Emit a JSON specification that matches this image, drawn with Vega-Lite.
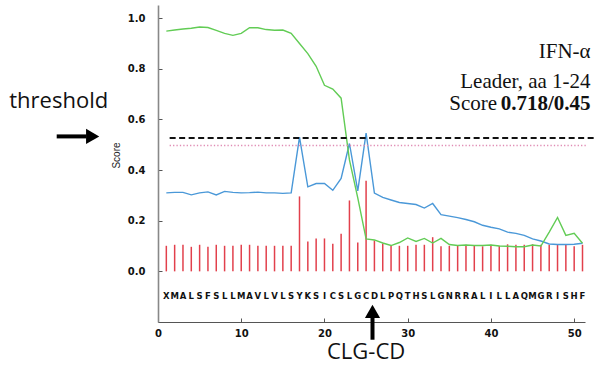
{
  "$schema": "https://vega.github.io/schema/vega-lite/v6.json",
  "autosize": "none",
  "width": 427,
  "height": 317,
  "padding": {"left": 158, "top": 5, "right": 12, "bottom": 48},
  "background": "white",
  "config": {"view": {"stroke": null}},
  "datasets": {
    "scores": [
      {"pos": 1, "aa": "X", "C": 0.101, "S": 0.949, "Y": 0.310},
      {"pos": 2, "aa": "M", "C": 0.105, "S": 0.953, "Y": 0.312},
      {"pos": 3, "aa": "A", "C": 0.105, "S": 0.957, "Y": 0.312},
      {"pos": 4, "aa": "L", "C": 0.097, "S": 0.960, "Y": 0.302},
      {"pos": 5, "aa": "S", "C": 0.105, "S": 0.965, "Y": 0.310},
      {"pos": 6, "aa": "F", "C": 0.097, "S": 0.963, "Y": 0.314},
      {"pos": 7, "aa": "S", "C": 0.105, "S": 0.952, "Y": 0.302},
      {"pos": 8, "aa": "L", "C": 0.101, "S": 0.940, "Y": 0.316},
      {"pos": 9, "aa": "L", "C": 0.101, "S": 0.932, "Y": 0.312},
      {"pos": 10, "aa": "M", "C": 0.105, "S": 0.940, "Y": 0.310},
      {"pos": 11, "aa": "A", "C": 0.105, "S": 0.962, "Y": 0.311},
      {"pos": 12, "aa": "V", "C": 0.101, "S": 0.962, "Y": 0.313},
      {"pos": 13, "aa": "L", "C": 0.101, "S": 0.955, "Y": 0.310},
      {"pos": 14, "aa": "V", "C": 0.101, "S": 0.952, "Y": 0.310},
      {"pos": 15, "aa": "L", "C": 0.101, "S": 0.953, "Y": 0.308},
      {"pos": 16, "aa": "S", "C": 0.101, "S": 0.940, "Y": 0.310},
      {"pos": 17, "aa": "Y", "C": 0.296, "S": 0.900, "Y": 0.530},
      {"pos": 18, "aa": "K", "C": 0.118, "S": 0.860, "Y": 0.334},
      {"pos": 19, "aa": "S", "C": 0.130, "S": 0.810, "Y": 0.347},
      {"pos": 20, "aa": "I", "C": 0.130, "S": 0.735, "Y": 0.347},
      {"pos": 21, "aa": "C", "C": 0.109, "S": 0.720, "Y": 0.320},
      {"pos": 22, "aa": "S", "C": 0.149, "S": 0.684, "Y": 0.367},
      {"pos": 23, "aa": "L", "C": 0.280, "S": 0.440, "Y": 0.505},
      {"pos": 24, "aa": "G", "C": 0.114, "S": 0.290, "Y": 0.318},
      {"pos": 25, "aa": "C", "C": 0.358, "S": 0.128, "Y": 0.546},
      {"pos": 26, "aa": "D", "C": 0.122, "S": 0.124, "Y": 0.309},
      {"pos": 27, "aa": "L", "C": 0.110, "S": 0.112, "Y": 0.292},
      {"pos": 28, "aa": "P", "C": 0.101, "S": 0.102, "Y": 0.282},
      {"pos": 29, "aa": "Q", "C": 0.101, "S": 0.114, "Y": 0.272},
      {"pos": 30, "aa": "T", "C": 0.101, "S": 0.132, "Y": 0.268},
      {"pos": 31, "aa": "H", "C": 0.105, "S": 0.118, "Y": 0.264},
      {"pos": 32, "aa": "S", "C": 0.105, "S": 0.130, "Y": 0.250},
      {"pos": 33, "aa": "L", "C": 0.135, "S": 0.112, "Y": 0.268},
      {"pos": 34, "aa": "G", "C": 0.099, "S": 0.130, "Y": 0.224},
      {"pos": 35, "aa": "N", "C": 0.101, "S": 0.106, "Y": 0.218},
      {"pos": 36, "aa": "R", "C": 0.101, "S": 0.102, "Y": 0.212},
      {"pos": 37, "aa": "R", "C": 0.105, "S": 0.104, "Y": 0.205},
      {"pos": 38, "aa": "A", "C": 0.101, "S": 0.102, "Y": 0.196},
      {"pos": 39, "aa": "L", "C": 0.099, "S": 0.102, "Y": 0.182},
      {"pos": 40, "aa": "I", "C": 0.105, "S": 0.104, "Y": 0.174},
      {"pos": 41, "aa": "L", "C": 0.101, "S": 0.100, "Y": 0.168},
      {"pos": 42, "aa": "L", "C": 0.107, "S": 0.099, "Y": 0.155},
      {"pos": 43, "aa": "A", "C": 0.105, "S": 0.097, "Y": 0.150},
      {"pos": 44, "aa": "Q", "C": 0.105, "S": 0.097, "Y": 0.142},
      {"pos": 45, "aa": "M", "C": 0.107, "S": 0.104, "Y": 0.128},
      {"pos": 46, "aa": "G", "C": 0.105, "S": 0.100, "Y": 0.120},
      {"pos": 47, "aa": "R", "C": 0.105, "S": 0.155, "Y": 0.108},
      {"pos": 48, "aa": "I", "C": 0.105, "S": 0.213, "Y": 0.106},
      {"pos": 49, "aa": "S", "C": 0.105, "S": 0.142, "Y": 0.106},
      {"pos": 50, "aa": "H", "C": 0.099, "S": 0.150, "Y": 0.107},
      {"pos": 51, "aa": "F", "C": 0.105, "S": 0.111, "Y": 0.111}
    ],
    "cutoffs": [
      {"kind": "threshold", "x1": 1.4, "x2": 52.5, "y": 0.527},
      {"kind": "dotted", "x1": 1.4, "x2": 51.6, "y": 0.497}
    ],
    "notes": [
      {"label": "IFN-α", "x": 51.97, "y": 0.842},
      {"label": "Leader, aa 1-24", "x": 51.97, "y": 0.724},
      {"label": "Score", "x": 40.75, "y": 0.638}
    ],
    "boldnotes": [
      {"label": "0.718/0.45", "x": 51.97, "y": 0.638}
    ],
    "callouts": [
      {"label": "threshold", "x": -11.93, "y": 0.645},
      {"label": "CLG-CD", "x": 25.0, "y": -0.348}
    ],
    "shafts": [
      {"x1": -12.17, "x2": -8.6, "y1": 0.533, "y2": 0.533},
      {"x1": 25.77, "x2": 25.77, "y1": -0.17, "y2": -0.27}
    ],
    "heads": [
      {"x": -7.85, "y": 0.533, "dir": "triangle-right"},
      {"x": 25.77, "y": -0.158, "dir": "triangle-up"}
    ]
  },
  "layer": [
    {
      "data": {"name": "scores"},
      "mark": {"type": "rule", "color": "#e2404c", "strokeWidth": 1.5},
      "encoding": {
        "x": {
          "field": "pos", "type": "quantitative",
          "scale": {"domain": [0, 51.3], "nice": false, "zero": false},
          "axis": {
            "values": [0, 10, 20, 30, 40, 50], "title": null, "grid": false,
            "labelFont": "DejaVu Sans", "labelFontWeight": "bold", "labelFontSize": 10, "labelColor": "#111",
            "tickSize": -4, "tickColor": "#555", "domainColor": "#555", "domainWidth": 1.2,
            "labelPadding": 10, "labelFlush": false
          }
        },
        "y": {
          "field": "C", "type": "quantitative",
          "scale": {"domain": [-0.2, 1.052], "nice": false, "zero": false},
          "axis": {
            "values": [0, 0.2, 0.4, 0.6, 0.8, 1.0], "format": ".1f", "title": "Score", "grid": false,
            "labelFont": "DejaVu Sans", "labelFontWeight": "bold", "labelFontSize": 10, "labelColor": "#111",
            "tickSize": -4, "tickColor": "#555", "domainColor": "#888", "domainWidth": 1.6,
            "labelPadding": 17, "labelFlush": false,
            "titleFont": "Liberation Sans", "titleFontSize": 10, "titleFontWeight": "normal", "titleColor": "#222",
            "titleX": -42, "titleY": 150, "titleBaseline": "middle", "titleAngle": -90
          }
        },
        "y2": {"datum": 0}
      }
    },
    {
      "data": {"name": "scores"},
      "mark": {"type": "line", "color": "#4a98d8", "strokeWidth": 1.4},
      "encoding": {
        "x": {"field": "pos", "type": "quantitative"},
        "y": {"field": "Y", "type": "quantitative"}
      }
    },
    {
      "data": {"name": "scores"},
      "mark": {"type": "line", "color": "#62cc55", "strokeWidth": 1.4},
      "encoding": {
        "x": {"field": "pos", "type": "quantitative"},
        "y": {"field": "S", "type": "quantitative"}
      }
    },
    {
      "data": {"name": "scores"},
      "mark": {"type": "text", "font": "DejaVu Sans", "fontWeight": "bold", "fontSize": 8.5, "color": "#111", "baseline": "middle", "align": "center"},
      "encoding": {
        "x": {"field": "pos", "type": "quantitative"},
        "y": {"datum": -0.098},
        "text": {"field": "aa"}
      }
    },
    {
      "data": {"name": "cutoffs"},
      "transform": [{"filter": "datum.kind === 'threshold'"}],
      "mark": {"type": "rule", "color": "#111", "strokeWidth": 2, "strokeDash": [6, 3.5], "clip": false},
      "encoding": {
        "x": {"field": "x1", "type": "quantitative"},
        "x2": {"field": "x2"},
        "y": {"field": "y", "type": "quantitative"}
      }
    },
    {
      "data": {"name": "cutoffs"},
      "transform": [{"filter": "datum.kind === 'dotted'"}],
      "mark": {"type": "rule", "color": "#e08cb4", "strokeWidth": 1.5, "strokeDash": [1.3, 2.1], "clip": false},
      "encoding": {
        "x": {"field": "x1", "type": "quantitative"},
        "x2": {"field": "x2"},
        "y": {"field": "y", "type": "quantitative"}
      }
    },
    {
      "data": {"name": "notes"},
      "mark": {"type": "text", "font": "Liberation Serif", "fontSize": 21, "color": "#111", "align": "right", "baseline": "alphabetic"},
      "encoding": {
        "x": {"field": "x", "type": "quantitative"},
        "y": {"field": "y", "type": "quantitative"},
        "text": {"field": "label"}
      }
    },
    {
      "data": {"name": "boldnotes"},
      "mark": {"type": "text", "font": "Liberation Serif", "fontSize": 21, "fontWeight": "bold", "color": "#111", "align": "right", "baseline": "alphabetic"},
      "encoding": {
        "x": {"field": "x", "type": "quantitative"},
        "y": {"field": "y", "type": "quantitative"},
        "text": {"field": "label"}
      }
    },
    {
      "data": {"name": "callouts"},
      "mark": {"type": "text", "font": "Open Sans", "fontSize": 22, "color": "#111", "align": "center", "baseline": "alphabetic"},
      "encoding": {
        "x": {"field": "x", "type": "quantitative"},
        "y": {"field": "y", "type": "quantitative"},
        "text": {"field": "label"}
      }
    },
    {
      "data": {"name": "shafts"},
      "mark": {"type": "rule", "color": "#000", "strokeWidth": 4, "clip": false},
      "encoding": {
        "x": {"field": "x1", "type": "quantitative"},
        "x2": {"field": "x2"},
        "y": {"field": "y1", "type": "quantitative"},
        "y2": {"field": "y2"}
      }
    },
    {
      "data": {"name": "heads"},
      "mark": {"type": "point", "filled": true, "color": "#000", "opacity": 1, "size": 230},
      "encoding": {
        "x": {"field": "x", "type": "quantitative"},
        "y": {"field": "y", "type": "quantitative"},
        "shape": {"field": "dir", "type": "nominal", "scale": null}
      }
    }
  ]
}
